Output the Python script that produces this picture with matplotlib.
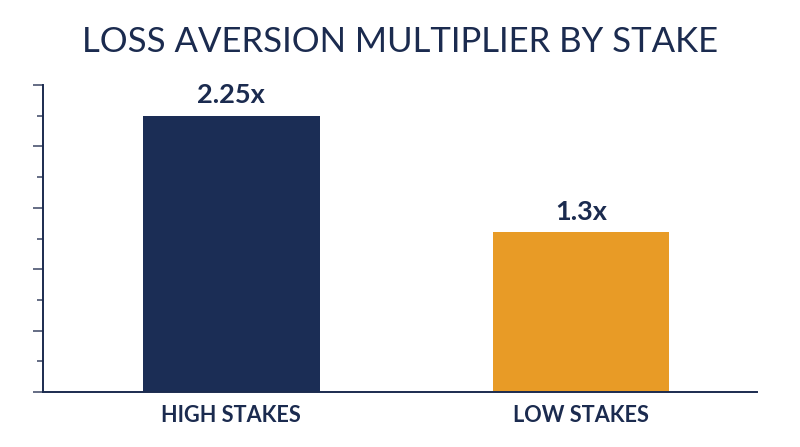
import matplotlib
matplotlib.use("Agg")
import matplotlib.pyplot as plt
from matplotlib.ticker import MultipleLocator

categories = ["HIGH STAKES", "LOW STAKES"]
values = [2.25, 1.3]
value_labels = ["2.25x", "1.3x"]
colors = ["#1b2d55", "#e89b26"]
title = "LOSS AVERSION MULTIPLIER BY STAKE"

navy = "#1b2b4f"
plt.rcParams['font.family'] = ['Lato', 'DejaVu Sans']

fig = plt.figure(figsize=(8, 4.47), dpi=100)
ax = fig.add_axes([43/800, 55/447, (757-43)/800, (392-85)/447])

x = list(range(len(categories)))
bars = ax.bar(x, values, width=0.505, color=colors, zorder=2)

ax.set_xlim(-0.539, 1.504)
ax.set_ylim(0, 2.5)
ax.yaxis.set_major_locator(MultipleLocator(0.5))
ax.yaxis.set_minor_locator(MultipleLocator(0.25))
ax.tick_params(axis='y', which='major', length=7.5, width=1.2, color="#4a5470", labelleft=False)
ax.tick_params(axis='y', which='minor', length=4.3, width=1.2, color="#4a5470")
ax.set_xticks(x)
ax.set_xticklabels(categories, fontsize=15.6, color=navy, fontweight='bold')
ax.tick_params(axis='x', length=0, pad=9.5)

for s in ['top', 'right']:
    ax.spines[s].set_visible(False)
for s in ['left', 'bottom']:
    ax.spines[s].set_color(navy)
    ax.spines[s].set_linewidth(1.4)

for xi, v, lab in zip(x, values, value_labels):
    ax.annotate(lab, (xi, v), xytext=(0, 6), textcoords='offset points',
                ha='center', va='bottom', fontsize=19.5, color=navy, fontweight='bold')

fig.text(0.5, 1 - 52/447, title, ha='center', va='baseline', fontsize=25, color=navy)

fig.savefig("out.png", dpi=100, facecolor='white')
